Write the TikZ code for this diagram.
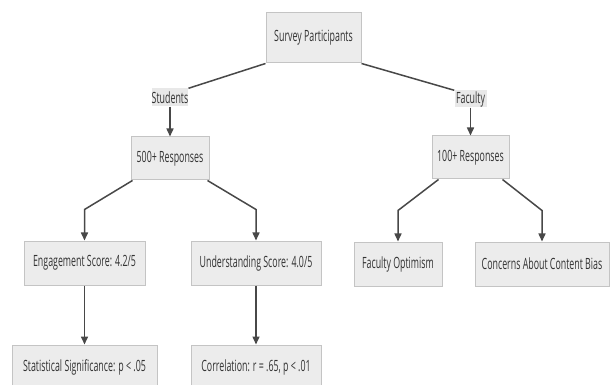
\documentclass[tikz,border=0pt]{standalone}
\usepackage{fontspec}
\setmainfont{Open Sans}[FakeStretch=0.57]
\usetikzlibrary{arrows.meta}
\definecolor{boxfill}{HTML}{ECECEC}
\definecolor{boxline}{HTML}{C4C4C4}
\definecolor{lblfill}{HTML}{E8E8E8}
\definecolor{edge}{HTML}{484848}
\definecolor{txt}{HTML}{333333}
\tikzset{
  box/.style={draw=boxline, line width=1pt, fill=boxfill, text=txt, inner sep=0pt,
    font=\fontsize{15.5}{17}\selectfont},
  lbl/.style={fill=lblfill, text=txt, inner sep=0pt, font=\fontsize{15.5}{17}\selectfont},
  conn/.style={draw=edge, line width=1.5pt},
  arr/.style={conn, -{Triangle[length=8pt,width=7pt]}}
}
\begin{document}
\begin{tikzpicture}[x=1pt,y=-1pt]
\clip (0,0) rectangle (611,385);
\fill[white] (0,0) rectangle (611,385);
% nodes
\node[box, minimum width=95pt, minimum height=50pt] (sp) at (313.5,38) {Survey Participants};
\node[lbl, minimum width=36pt, minimum height=18pt] (stu) at (170,97.5) {Students};
\node[lbl, minimum width=32pt, minimum height=17pt] (fac) at (470.5,99) {Faculty};
\node[box, minimum width=78pt, minimum height=43pt] (r500) at (170,158.5) {500+ Responses};
\node[box, minimum width=77pt, minimum height=43pt] (r100) at (470.5,157.5) {100+ Responses};
\node[box, minimum width=121pt, minimum height=44pt] (eng) at (84.5,263) {Engagement Score: 4.2/5};
\node[box, minimum width=130pt, minimum height=44pt] (und) at (256,263) {Understanding Score: 4.0/5};
\node[box, minimum width=145pt, minimum height=44pt] (stat) at (84.5,367) {Statistical Significance: p < .05};
\node[box, minimum width=130pt, minimum height=44pt] (corr) at (256,367) {Correlation: r = .65, p < .01};
\node[box, minimum width=88pt, minimum height=44pt] (opt) at (398,264) {Faculty Optimism};
\node[box, minimum width=134pt, minimum height=44pt] (bias) at (542,264) {Concerns About Content Bias};
% connectors
\draw[conn] (sp.south west) -- (stu.north east);
\draw[conn] (sp.south east) -- (fac.north west);
\draw[arr] (stu.south) -- (r500.north);
\draw[arr] (fac.south) -- (r100.north);
\draw[arr] ([xshift=2pt]r500.south west) -- ([yshift=31pt]eng.north) -- (eng.north);
\draw[arr] ([xshift=-2pt]r500.south east) -- ([yshift=31pt]und.north) -- (und.north);
\draw[arr] ([xshift=7pt]r100.south west) -- ([yshift=31pt]opt.north) -- (opt.north);
\draw[arr] ([xshift=-7pt]r100.south east) -- ([yshift=31pt]bias.north) -- (bias.north);
\draw[arr] (eng.south) -- (stat.north);
\draw[arr] (und.south) -- (corr.north);
\end{tikzpicture}
\end{document}
